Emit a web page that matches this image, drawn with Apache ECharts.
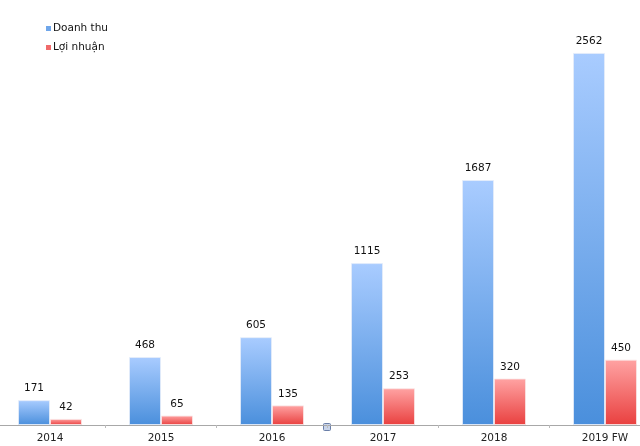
<!DOCTYPE html>
<html><head><meta charset="utf-8">
<script src="https://cdn.jsdelivr.net/npm/echarts@6/dist/echarts.min.js"></script>
<style>html,body{margin:0;padding:0;background:#fff}#c{width:640px;height:446px}</style>
</head><body><div id="c"></div>
<script>
const categories = ['2014','2015','2016','2017','2018','2019 FW'];
const revenue = [171, 468, 605, 1115, 1687, 2562];
const profit = [42, 65, 135, 253, 320, 450];
const seriesNames = ['Doanh thu', 'Lợi nhuận'];

const chart = echarts.init(document.getElementById('c'));
const font = '"DejaVu Sans", Helvetica, Arial, sans-serif';
function grad(top, bottom){
  return new echarts.graphic.LinearGradient(0,0,0,1,[{offset:0,color:top},{offset:1,color:bottom}]);
}
chart.setOption({
  animation:false,
  textStyle:{fontFamily:font},
  legend:{
    left:41, top:18, orient:'vertical', itemWidth:5, itemHeight:5, itemGap:8,
    icon:'rect',
    itemStyle:{borderWidth:0},
    textStyle:{fontSize:10.5, color:'#111', fontFamily:font, padding:[0,0,0,-3]},
    data:[{name:seriesNames[0], itemStyle:{color:'#6fa6ea', borderWidth:0}},
          {name:seriesNames[1], itemStyle:{color:'#f06a6a', borderWidth:0}}]
  },
  grid:{left:-5.5, right:-20.5, top:10, bottom:21, containLabel:false, outerBoundsMode:'none'},
  xAxis:{
    type:'category', data:categories,
    axisLine:{lineStyle:{color:'#a8a8a8', width:1}},
    axisTick:{show:true, length:3, lineStyle:{color:'#bbb'}},
    axisLabel:{fontSize:10.5, color:'#222', margin:8, fontFamily:font}
  },
  yAxis:{type:'value', min:0, max:2858, show:false, splitLine:{show:false}},
  series:[
    {name:seriesNames[0], type:'bar', data:revenue, barWidth:32, barGap:'0%',
     itemStyle:{color:grad('#a9ccff','#4a8fdc'), borderColor:'rgba(230,238,250,0.8)', borderWidth:1},
     label:{show:true, position:'top', fontSize:10.5, color:'#111', distance:6, fontFamily:font}},
    {name:seriesNames[1], type:'bar', data:profit, barWidth:32,
     itemStyle:{color:grad('#ffa3a3','#e9403f'), borderColor:'rgba(250,230,230,0.8)', borderWidth:1},
     label:{show:true, position:'top', fontSize:10.5, color:'#111', distance:6, fontFamily:font}}
  ],
  graphic:[{type:'rect', shape:{x:323.5, y:423.5, width:7, height:7, r:1},
    style:{fill:'#c8d4ea', stroke:'#6a7fa8', lineWidth:1}}]
});
</script></body></html>
